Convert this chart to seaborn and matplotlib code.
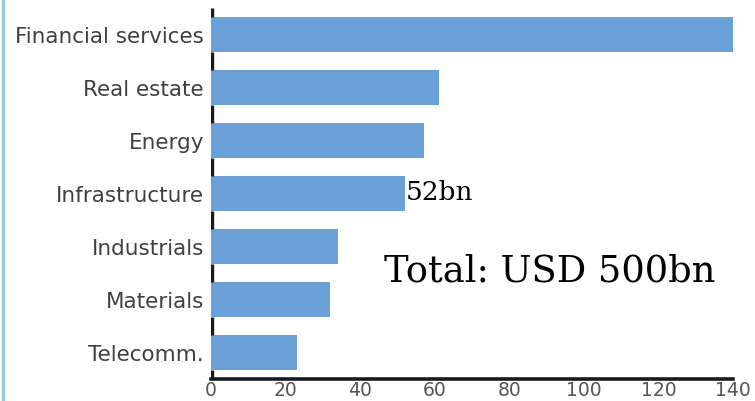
import matplotlib
matplotlib.use("Agg")
import matplotlib.pyplot as plt
import seaborn as sns
import pandas as pd

sectors = ["Financial services", "Real estate", "Energy", "Infrastructure",
           "Industrials", "Materials", "Telecomm."]
values = [140, 61, 57, 52, 34, 32, 23]
xticks = [0, 20, 40, 60, 80, 100, 120, 140]
annot_label = "52bn"
total_label = "Total: USD 500bn"

df = pd.DataFrame({"sector": sectors, "value": values})

sns.set_style("white")
plt.rcParams["font.family"] = ["DejaVu Sans"]

fig = plt.figure(figsize=(7.55, 4.02), dpi=100)
ax = fig.add_axes([0.2795, 0.0547, 0.6915, 0.9235])

sns.barplot(data=df, x="value", y="sector", orient="h", color="#6a9fd8",
            saturation=1, width=0.67, ax=ax, linewidth=0, edgecolor="none")

for s in ["top", "right", "left"]:
    ax.spines[s].set_visible(False)
ax.spines["bottom"].set_color("#1a1a1a")
ax.spines["bottom"].set_linewidth(2.6)

ax.set_xlim(0, 140)
ax.set_ylim(6.5, -0.5)

# left axis line, visible only in the gaps between the bars
ylo, yhi = ax.get_ylim()
bars = sorted(ax.patches, key=lambda p: p.get_y())
edges = [yhi] + [v for p in bars for v in (p.get_y(), p.get_y() + p.get_height())] + [ylo]
starts = edges[0::2]
ends = edges[1::2]
ax.vlines([0.35] * len(starts), starts, ends, color="#1a1a1a", linewidth=2.4)

ax.set_xticks(xticks)
ax.set_xticklabels([str(t) for t in xticks], fontsize=13.5, color="#555555")
ax.set_yticks(range(len(sectors)))
ax.set_yticklabels(sectors, fontsize=15.5, color="#404040")
ax.set_xlabel("")
ax.set_ylabel("")

ax.tick_params(axis="x", direction="in", length=6, width=2.6, color="#1a1a1a", pad=1)
ax.tick_params(axis="y", length=0, pad=5)

ax.text(52.3, 2.97, annot_label, fontsize=19, family="DejaVu Serif",
        va="center", ha="left", color="black")
ax.text(46.3, 4.45, total_label, fontsize=26.5, family="DejaVu Serif",
        va="center", ha="left", color="black")

fig.add_artist(plt.Line2D([0.004, 0.004], [0, 1], transform=fig.transFigure,
                          color="#9dc3e6", linewidth=2.5))

fig.savefig("out.png", dpi=100)
